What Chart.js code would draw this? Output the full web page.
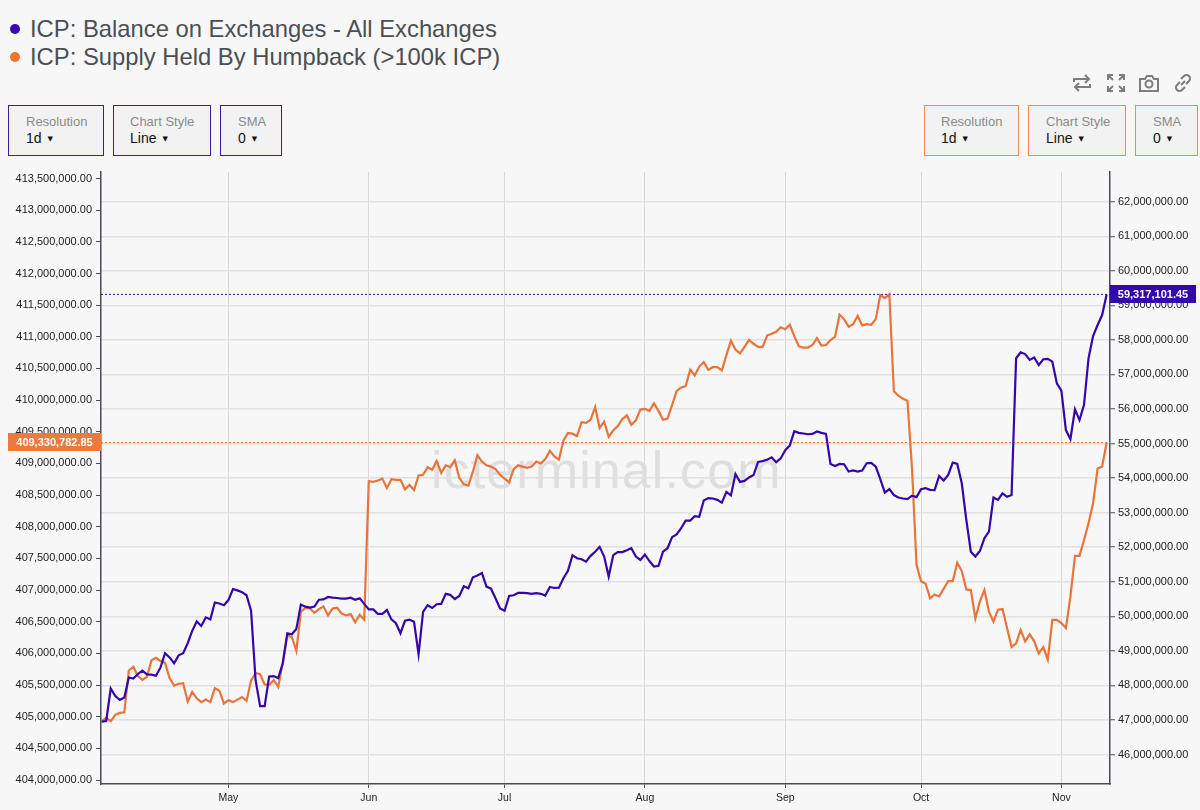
<!DOCTYPE html>
<html>
<head>
<meta charset="utf-8">
<title>ICP: Balance on Exchanges vs Supply Held By Humpback</title>
<script src="https://cdn.jsdelivr.net/npm/chart.js@4"></script>
<style>
  html, body { margin: 0; padding: 0; background: #f7f7f7; }
  body { position: relative; width: 1200px; height: 810px; overflow: hidden; font-family: "Liberation Sans", Arial, sans-serif; }
  canvas { position: absolute; left: 0; top: 0; }
  .legend { position: absolute; left: 30px; font-size: 23.8px; line-height: 28px; color: #4b4f54; white-space: nowrap; }
  .dot { position: absolute; left: 10px; width: 10px; height: 10px; border-radius: 50%; }
  .btn { position: absolute; top: 105px; height: 49px; background: #f2f2f2; border: 1px solid; font-size: 14px; line-height: 16px; }
  .btn.purple { border-color: #3f1aa0; }
  .btn.orange { border-color: #ee8a52; }
  .btn div { position: absolute; top: 8px; white-space: nowrap; color: #8a8a8a; font-size: 13px; }
  .btn div + div { top: 24px; color: #111; font-size: 14px; }
  .caret { font-size: 7px; margin-left: 6px; vertical-align: 2px; font-family: "DejaVu Sans", sans-serif; }
  .watermark { position: absolute; left: 431px; top: 440px; font-size: 52px; line-height: 60px; letter-spacing: 1.1px; color: #dfdfdf; white-space: nowrap; }
  .icon { position: absolute; top: 72px; width: 22px; height: 22px; fill: none; stroke: #7d7d7d; stroke-width: 2; }
</style>
</head>
<body>
<div class="dot" style="top:24px;background:#3a08b0"></div>
<div class="legend" style="top:15px">ICP: Balance on Exchanges - All Exchanges</div>
<div class="dot" style="top:52px;background:#f0752f"></div>
<div class="legend" style="top:43px">ICP: Supply Held By Humpback (&gt;100k ICP)</div>

<svg class="icon" style="left:1071px" viewBox="0 0 22 22"><path d="M3 10V7h15M14 3l4 4-4 4M19 12v3H4M8 11l-4 4 4 4"/></svg>
<svg class="icon" style="left:1105px" viewBox="0 0 22 22"><path d="M3 8V3h5M3 3l5 5M14 3h5v5M19 3l-5 5M3 14v5h5M3 19l5-5M19 14v5h-5M19 19l-5-5"/></svg>
<svg class="icon" style="left:1138px" viewBox="0 0 22 22"><path d="M2 7h5l2-3h5l2 3h4v12H2z"/><circle cx="11" cy="12" r="3.5"/></svg>
<svg class="icon" style="left:1172px" viewBox="0 0 22 22"><path d="M9 13l4-4M8 10l-3 3a3.5 3.5 0 0 0 5 5l3-3M14 12l3-3a3.5 3.5 0 0 0-5-5L9 7"/></svg>

<div class="btn purple" style="left:8px;width:94px"><div style="left:17px">Resolution</div><div style="left:17px">1d<span class="caret">▼</span></div></div>
<div class="btn purple" style="left:113px;width:96px"><div style="left:16px">Chart Style</div><div style="left:16px">Line<span class="caret">▼</span></div></div>
<div class="btn purple" style="left:220px;width:60px"><div style="left:17px">SMA</div><div style="left:17px">0<span class="caret">▼</span></div></div>
<div class="btn orange" style="left:924px;width:93px"><div style="left:16px">Resolution</div><div style="left:16px">1d<span class="caret">▼</span></div></div>
<div class="btn orange" style="left:1028px;width:96px"><div style="left:17px">Chart Style</div><div style="left:17px">Line<span class="caret">▼</span></div></div>
<div class="btn orange" style="left:1135px;width:61px"><div style="left:17px">SMA</div><div style="left:17px">0<span class="caret">▼</span></div></div>

<div class="watermark">icterminal.com</div>
<canvas id="chart" width="1200" height="810"></canvas>

<script>
// Daily values, millions of ICP, first point is 3 Apr.
const exchangeBalance = [
  46.95, 46.97, 47.91, 47.69, 47.58, 47.65, 48.23, 48.20, 48.33, 48.43,
  48.32, 48.31, 48.28, 48.52, 48.93, 48.81, 48.64, 48.87, 48.93, 49.22,
  49.58, 49.85, 49.72, 49.97, 49.91, 50.40, 50.37, 50.32, 50.47, 50.79,
  50.75, 50.70, 50.61, 50.16, 48.15, 47.40, 47.40, 48.26, 48.27, 48.21,
  48.64, 49.51, 49.48, 49.63, 50.34, 50.28, 50.25, 50.28, 50.48, 50.49,
  50.56, 50.54, 50.53, 50.51, 50.51, 50.54, 50.48, 50.52, 50.36, 50.20,
  50.20, 50.07, 50.07, 50.18, 49.91, 49.80, 49.51, 49.87, 49.90, 49.84,
  48.90, 50.13, 50.32, 50.24, 50.35, 50.36, 50.65, 50.62, 50.50, 50.59,
  50.87, 50.81, 51.13, 51.18, 51.25, 50.86, 50.80, 50.52, 50.23, 50.16,
  50.59, 50.61, 50.68, 50.68, 50.67, 50.65, 50.67, 50.65, 50.60, 50.85,
  50.82, 50.83, 51.10, 51.32, 51.77, 51.68, 51.65, 51.58, 51.75, 51.87,
  52.01, 51.73, 51.15, 51.77, 51.86, 51.86, 51.91, 51.97, 51.73, 51.63,
  51.79, 51.60, 51.44, 51.46, 51.87, 51.97, 52.29, 52.37, 52.55, 52.77,
  52.77, 52.90, 52.88, 53.35, 53.42, 53.41, 53.37, 53.29, 53.60, 53.50,
  54.12, 53.89, 53.92, 54.02, 54.09, 54.47, 54.49, 54.53, 54.60, 54.46,
  54.57, 54.81, 54.94, 55.36, 55.31, 55.29, 55.27, 55.28, 55.35, 55.31,
  55.28, 54.41, 54.35, 54.41, 54.40, 54.19, 54.22, 54.19, 54.22, 54.43,
  54.44, 54.33, 53.97, 53.58, 53.68, 53.51, 53.44, 53.41, 53.39, 53.49,
  53.45, 53.68, 53.71, 53.66, 53.65, 54.06, 53.93, 54.09, 54.45, 54.41,
  53.85, 52.79, 51.87, 51.73, 51.89, 52.26, 52.45, 53.44, 53.37, 53.56,
  53.46, 53.51, 57.47, 57.64, 57.59, 57.42, 57.49, 57.27, 57.44, 57.45,
  57.37, 56.74, 56.53, 55.39, 55.13, 55.99, 55.68, 56.12, 57.47, 58.11,
  58.43, 58.72, 59.31710145,
];
const humpbackSupply = [
  404.93, 404.98, 404.93, 405.03, 405.06, 405.07, 405.73, 405.79, 405.64, 405.58,
  405.63, 405.89, 405.93, 405.88, 405.85, 405.61, 405.49, 405.52, 405.53, 405.24,
  405.39, 405.29, 405.23, 405.27, 405.23, 405.45, 405.41, 405.21, 405.26, 405.23,
  405.27, 405.31, 405.25, 405.57, 405.69, 405.67, 405.51, 405.50, 405.58, 405.47,
  405.85, 406.28, 406.26, 406.04, 406.66, 406.72, 406.71, 406.64, 406.70, 406.74,
  406.60, 406.71, 406.72, 406.63, 406.60, 406.62, 406.49, 406.61, 406.53,
  408.72, 408.71, 408.73, 408.76, 408.61, 408.75, 408.74, 408.74, 408.59, 408.66,
  408.58, 408.81, 408.82, 408.94, 408.90, 409.04, 408.85, 408.97, 408.94, 409.05,
  408.77, 408.67, 408.65, 408.87, 409.13, 409.03, 408.97, 408.95, 408.91, 408.82,
  408.76, 408.70, 408.91, 408.97, 408.95, 408.93, 408.95, 409.03, 409.00, 409.07,
  409.20, 409.11, 409.06, 409.36, 409.48, 409.47, 409.43, 409.65, 409.64, 409.69,
  409.89, 409.56, 409.66, 409.42, 409.52, 409.59, 409.70, 409.76, 409.61, 409.68,
  409.85, 409.86, 409.83, 409.95, 409.83,
  409.69, 409.71, 409.92, 410.14, 410.20, 410.22, 410.48, 410.39, 410.53, 410.60,
  410.48, 410.52, 410.52, 410.47, 410.71, 410.94, 410.80, 410.74, 410.84, 410.95,
  410.89, 410.84, 410.84, 411.02, 411.05, 411.08, 411.15, 411.12, 411.19, 411.01,
  410.85, 410.83, 410.83, 410.87, 410.98, 410.86, 410.87, 410.95, 411.00, 411.35,
  411.28, 411.16, 411.20, 411.33, 411.18, 411.20, 411.19, 411.28, 411.66, 411.61,
  411.67, 410.14, 410.07, 410.02, 409.99,
  408.93, 407.40, 407.14, 407.10, 406.87, 406.93, 406.90, 407.02, 407.14, 407.14,
  407.43, 407.30, 407.01, 407.00, 406.55, 406.82, 407.00, 406.66, 406.50, 406.69,
  406.70, 406.40, 406.10, 406.16, 406.37, 406.19, 406.30, 406.19, 406.00, 406.10,
  405.90, 406.53, 406.53, 406.48, 406.40, 406.90, 407.54, 407.54, 407.79, 408.06,
  408.37, 408.92, 408.95, 409.33078285,
];
const monthLabels = ["May", "Jun", "Jul", "Aug", "Sep", "Oct", "Nov"];
const monthDays = [28, 59, 89, 120, 151, 181, 212]; // day index of each 1st
const leftTicks = [
  404.0, 404.5, 405.0, 405.5, 406.0, 406.5, 407.0, 407.5, 408.0, 408.5,
  409.0, 409.5, 410.0, 410.5, 411.0, 411.5, 412.0, 412.5, 413.0, 413.5,
];
const rightTicks = [46, 47, 48, 49, 50, 51, 52, 53, 54, 55, 56, 57, 58, 59, 60, 61, 62];

const PURPLE = "#3507aa";
const ORANGE = "#e8743a";
const MILLION = 1e6;

const toPoints = (values) => values.map((v, i) => ({ x: i, y: v * MILLION }));
const money = (v) =>
  v.toLocaleString("en-US", { minimumFractionDigits: 2, maximumFractionDigits: 2 });

const lastBalance = exchangeBalance[exchangeBalance.length - 1] * MILLION;
const lastSupply = humpbackSupply[humpbackSupply.length - 1] * MILLION;
const X_MIN = -0.15;
const X_MAX = 222.74;

// Value flags at the end of each dotted last-value line
const lastValueFlags = {
  id: "lastValueFlags",
  afterDraw(chart) {
    const { ctx, scales } = chart;
    const flag = (x, w, y, color, text) => {
      ctx.save();
      ctx.fillStyle = color;
      ctx.fillRect(x, Math.round(y) - 9, w, 18);
      ctx.fillStyle = "#fff";
      ctx.font = 'bold 11px "Liberation Sans", Arial, sans-serif';
      ctx.textAlign = "center";
      ctx.textBaseline = "middle";
      ctx.fillText(text, x + w / 2, Math.round(y) + 0.5);
      ctx.restore();
    };
    flag(1110, 86, scales.yRight.getPixelForValue(lastBalance), PURPLE, money(lastBalance));
    flag(8, 93, scales.yLeft.getPixelForValue(lastSupply), "#ec7a3c", money(lastSupply));
  },
};

const tickFont = { family: '"Liberation Sans", Arial, sans-serif', size: 11 };

new Chart(document.getElementById("chart"), {
  type: "line",
  data: {
    datasets: [
      {
        data: toPoints(exchangeBalance),
        yAxisID: "yRight",
        borderColor: PURPLE,
        borderWidth: 2.2,
        pointRadius: 0,
        tension: 0,
      },
      {
        data: toPoints(humpbackSupply),
        yAxisID: "yLeft",
        borderColor: ORANGE,
        borderWidth: 2.2,
        pointRadius: 0,
        tension: 0,
      },
      {
        data: [{ x: X_MIN, y: lastBalance }, { x: X_MAX, y: lastBalance }],
        yAxisID: "yRight",
        borderColor: PURPLE,
        borderWidth: 1,
        borderDash: [2, 2],
        pointRadius: 0,
      },
      {
        data: [{ x: X_MIN, y: lastSupply }, { x: X_MAX, y: lastSupply }],
        yAxisID: "yLeft",
        borderColor: ORANGE,
        borderWidth: 1,
        borderDash: [2, 2],
        pointRadius: 0,
      },
    ],
  },
  options: {
    responsive: false,
    animation: false,
    layout: { padding: { top: 172 } },
    plugins: { legend: { display: false }, tooltip: { enabled: false } },
    scales: {
      x: {
        type: "linear",
        min: X_MIN,
        max: X_MAX,
        afterBuildTicks: (s) => { s.ticks = monthDays.map((d) => ({ value: d })); },
        afterFit: (s) => { s.height = 26; },
        border: { color: "#4a4a5c", width: 1.5 },
        grid: { color: "#d9d9d9", lineWidth: 1, tickColor: "#4a4a5c", tickLength: 4 },
        ticks: {
          color: "#222",
          font: { ...tickFont, size: 10.5 },
          padding: 4,
          maxRotation: 0,
          autoSkip: false,
          callback: (v) => monthLabels[monthDays.indexOf(v)],
        },
      },
      yLeft: {
        position: "left",
        min: 403.937 * MILLION,
        max: 413.603 * MILLION,
        afterBuildTicks: (s) => { s.ticks = leftTicks.map((v) => ({ value: v * MILLION })); },
        afterFit: (s) => { s.width = 101; },
        border: { color: "#4a4a5c", width: 1.5 },
        grid: { drawOnChartArea: false, tickColor: "#4a4a5c", tickLength: 5 },
        ticks: { color: "#222", font: tickFont, padding: 4, autoSkip: false, callback: (v) => money(v) },
      },
      yRight: {
        position: "right",
        min: 45.146 * MILLION,
        max: 62.86 * MILLION,
        afterBuildTicks: (s) => { s.ticks = rightTicks.map((v) => ({ value: v * MILLION })); },
        afterFit: (s) => { s.width = 90; },
        border: { color: "#4a4a5c", width: 1.5 },
        grid: { color: "#e0e0e0", lineWidth: 1.5, tickColor: "#4a4a5c", tickWidth: 1, tickLength: 5 },
        ticks: { color: "#222", font: tickFont, padding: 3, autoSkip: false, callback: (v) => money(v) },
      },
    },
  },
  plugins: [lastValueFlags],
});
</script>
</body>
</html>
